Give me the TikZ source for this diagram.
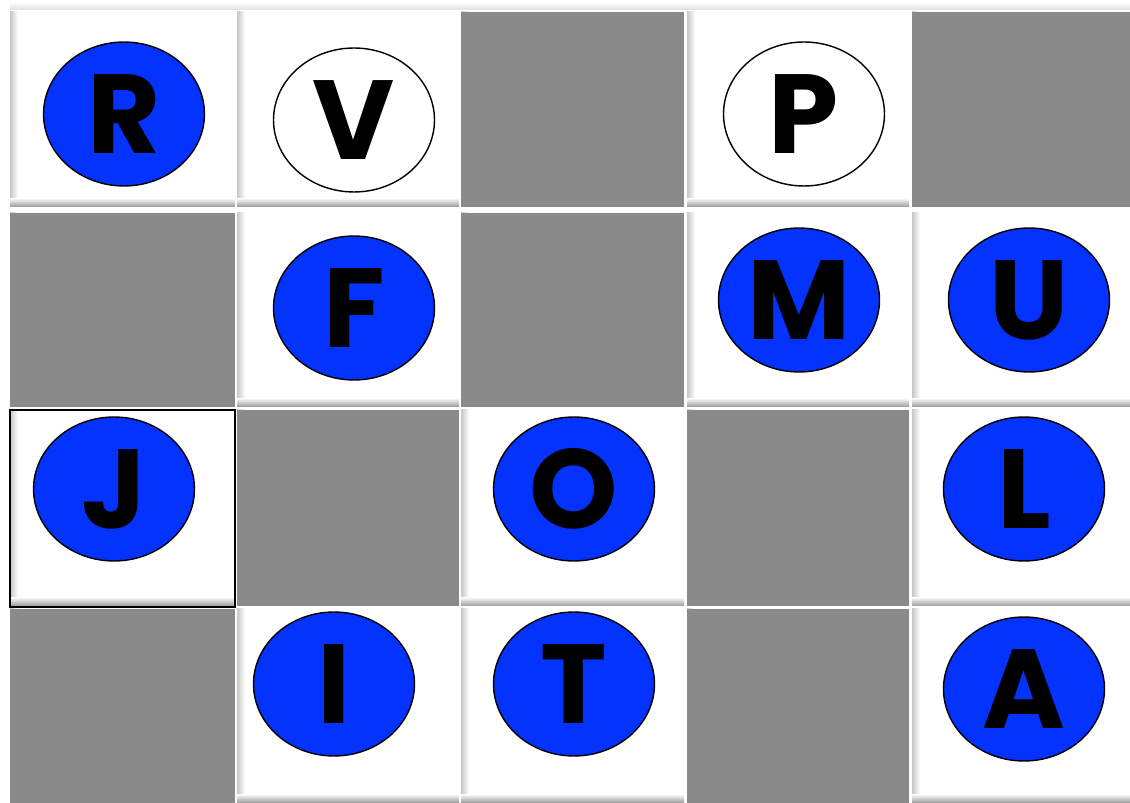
\documentclass[tikz,border=0pt]{standalone}
\usepackage{fontspec}
\setmainfont{Poppins}
\usepackage{tikz}
\usetikzlibrary{shapes.geometric}
\definecolor{myblue}{RGB}{4,51,255}
\definecolor{mygray}{RGB}{138,138,138}
\tikzset{
  disc/.style={ellipse, draw=black, line width=0.8pt,
    minimum width=3.22cm, minimum height=2.88cm, inner sep=0pt},
  bluedisc/.style={disc, fill=myblue},
  whitedisc/.style={disc, fill=white},
  letter/.style={font=\fontsize{64}{64}\selectfont\bfseries, inner sep=0pt}
}

\begin{document}
\begin{tikzpicture}[x=0.02cm, y=-0.02cm]
  \useasboundingbox (0,0) rectangle (1130,803);
  % soft strip above the first row
  \shade[top color=white, bottom color=black!12] (10,2) rectangle (1130,10);
  % white cells with a soft edge at bottom and left
  \foreach \ya/\yb in {12/207, 213/407, 410/606, 609/803} {
    \foreach \xa/\xb in {10/235, 237/459, 461/684, 687/909, 912/1130} {
      \fill[white] (\xa,\ya) rectangle (\xb,\yb);
      \shade[top color=white, bottom color=black!40] (\xa,{\yb-9}) rectangle (\xb,\yb);
      \shade[left color=black!22, right color=white] (\xa,\ya) rectangle ({\xa+8},{\yb-9});
    }
  }
  % grey cells
  \foreach \xa/\ya/\xb/\yb in {461/12/684/207, 912/12/1130/207,
      10/213/235/407, 461/213/684/407, 237/410/459/606, 687/410/909/606,
      10/609/235/803, 687/609/909/803} {
    \fill[mygray] (\xa,\ya) rectangle (\xb,\yb);
  }
  % framed cell
  \draw[line width=1.2pt] (10,410) rectangle (235,607);

  % row 1
  \node[bluedisc, label={[letter]center:R}] (R) at (124,114) {};
  \node[whitedisc, label={[letter]center:V}] (V) at (354,120) {};
  \node[whitedisc, label={[letter]center:P}] (P) at (804,114) {};
  % row 2
  \node[bluedisc, label={[letter]center:F}] (F) at (354,308) {};
  \node[bluedisc, label={[letter]center:M}] (M) at (799,300) {};
  \node[bluedisc, label={[letter]center:U}] (U) at (1029,300) {};
  % row 3
  \node[bluedisc, label={[letter]center:J}] (J) at (114,489) {};
  \node[bluedisc, label={[letter]center:O}] (O) at (574,489) {};
  \node[bluedisc, label={[letter]center:L}] (L) at (1024,489) {};
  % row 4
  \node[bluedisc, label={[letter]center:I}] (I) at (334,684) {};
  \node[bluedisc, label={[letter]center:T}] (T) at (574,684) {};
  \node[bluedisc, label={[letter]center:A}] (A) at (1024,689) {};
\end{tikzpicture}
\end{document}
